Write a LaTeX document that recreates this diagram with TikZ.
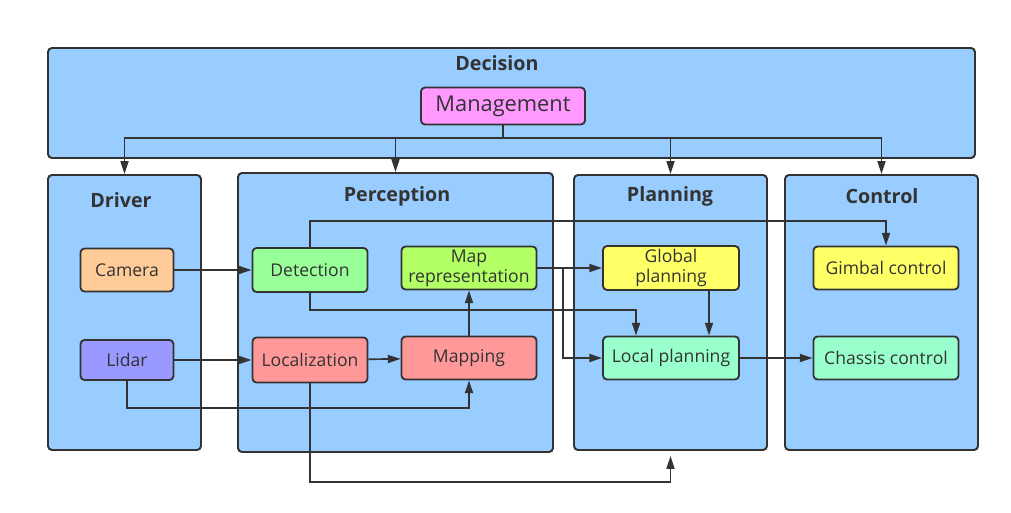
\documentclass[tikz,border=0pt]{standalone}
\usepackage{fontspec}
\setmainfont{Open Sans}
\usepackage{tikz}
\usetikzlibrary{arrows.meta,positioning}

\definecolor{ink}{HTML}{333333}
\definecolor{grpblue}{HTML}{99CCFF}
\definecolor{mgmtpink}{HTML}{FF99FF}
\definecolor{camorange}{HTML}{FFCC99}
\definecolor{lidpurple}{HTML}{9999FF}
\definecolor{detgreen}{HTML}{99FF99}
\definecolor{mapgreen}{HTML}{B3FF66}
\definecolor{locred}{HTML}{FF9999}
\definecolor{globyellow}{HTML}{FFFF66}
\definecolor{localmint}{HTML}{99FFCC}

\newcommand{\lblfont}{\fontsize{12.5}{14.2}\selectfont}
\newcommand{\ttlfont}{\fontsize{14}{16}\selectfont\bfseries}

\tikzset{
  grp/.style = {draw=ink, fill=grpblue, line width=1.4pt, rounded corners=0.1cm, inner sep=0},
  ttl/.style = {text=ink, font=\ttlfont, inner sep=0},
  blk/.style = {draw=ink, line width=1.3pt, rounded corners=0.1cm, inner sep=0,
                align=center, text=ink, font=\lblfont},
  wire/.style = {draw=ink, line width=1.2pt}
}

\begin{document}
\begin{tikzpicture}[node distance = 2.25cm, >={Triangle[length=0.32cm,width=0.2cm]}]
\useasboundingbox (0,0) rectangle (25.275,-12.825);

% group boxes
\node[grp, minimum width=23.175cm, minimum height=2.75cm] (dec) at (12.7875,-2.575) {};
\node[grp, minimum width=3.825cm, minimum height=6.875cm] (drv) at (3.1125,-7.8125) {};
\node[grp, minimum width=7.875cm, minimum height=6.975cm] (per) at (9.8875,-7.8125) {};
\node[grp, minimum width=4.825cm, minimum height=6.875cm] (plan) at (16.7625,-7.8125) {};
\node[grp, minimum width=4.825cm, minimum height=6.875cm] (ctrl) at (22.0375,-7.8125) {};

\node[ttl] (dectitle) at (12.425,-1.575) {Decision};
\node[ttl] (drvtitle) at (3.025,-5.0) {Driver};
\node[ttl] (pertitle) at (9.925,-4.9) {Perception};
\node[ttl] (plantitle) at (16.75,-4.9) {Planning};
\node[ttl] (ctrltitle) at (22.05,-4.9) {Control};

% modules
\node[blk, fill=mgmtpink, minimum width=4.1cm, minimum height=0.925cm,
      font=\fontsize{15.5}{18}\selectfont] (mgmt) at (12.575,-2.65) {Management};

\node[blk, fill=camorange, minimum width=2.325cm, minimum height=1.075cm] (cam) at (3.175,-6.75) {Camera};
\node[blk, fill=lidpurple, minimum width=2.325cm, minimum height=1.0cm] (lid) [below of = cam] {Lidar};

\node[blk, fill=detgreen, minimum width=2.875cm, minimum height=1.1cm] (det) at (7.75,-6.75) {Detection};
\node[blk, fill=locred, minimum width=2.875cm, minimum height=1.125cm] (locz) [below of = det] {Localization};

\node[blk, fill=mapgreen, minimum width=3.375cm, minimum height=1.075cm] (maprep) at (11.725,-6.7) {Map\\representation};
\node[blk, fill=locred, minimum width=3.375cm, minimum height=1.075cm] (mapp) [below of = maprep] {Mapping};

\node[blk, fill=globyellow, minimum width=3.4cm, minimum height=1.1cm] (glob) at (16.775,-6.7) {Global\\planning};
\node[blk, fill=localmint, minimum width=3.4cm, minimum height=1.075cm] (loc) [below of = glob] {Local planning};

\node[blk, fill=globyellow, minimum width=3.625cm, minimum height=1.075cm] (gim) at (22.15,-6.7) {Gimbal control};
\node[blk, fill=localmint, minimum width=3.625cm, minimum height=1.075cm] (chas) [below of = gim] {Chassis control};

% bends
\coordinate (bus) at (12.575,-3.45);
\coordinate (detup) at (7.75,-5.525);
\coordinate (detdn) at (7.75,-7.75);
\coordinate (split) at (14.075,-6.7);
\coordinate (lidown) at (3.175,-10.2);
\coordinate (locdn) at (7.75,-12.05);

% connectors
\draw[wire] (mgmt.south) -- (bus);
\foreach \b in {drv,per,plan,ctrl}
  \draw[wire,->] (bus) -| (\b.north);

\draw[wire,->] (cam) -- (det);
\draw[wire,->] (lid) -- (locz);
\draw[wire,->] (locz) -- (mapp);
\draw[wire,->] (mapp) -- (maprep);
\draw[wire,->] (lid.south) -- (lidown) -| (mapp.south);
\draw[wire,->] (det.north) -- (detup) -| (gim.north);
\draw[wire,->] (det.south) -- (detdn) -| ([xshift=-0.875cm]loc.north);
\draw[wire,->] (maprep) -- (glob);
\draw[wire,->] (split) |- (loc.west);
\draw[wire,->] ([xshift=0.95cm]glob.south) -- ([xshift=0.95cm]loc.north);
\draw[wire,->] (loc) -- (chas);
\draw[wire,->] (locz.south) -- (locdn) -| ([yshift=-0.125cm]plan.south);
\end{tikzpicture}
\end{document}
